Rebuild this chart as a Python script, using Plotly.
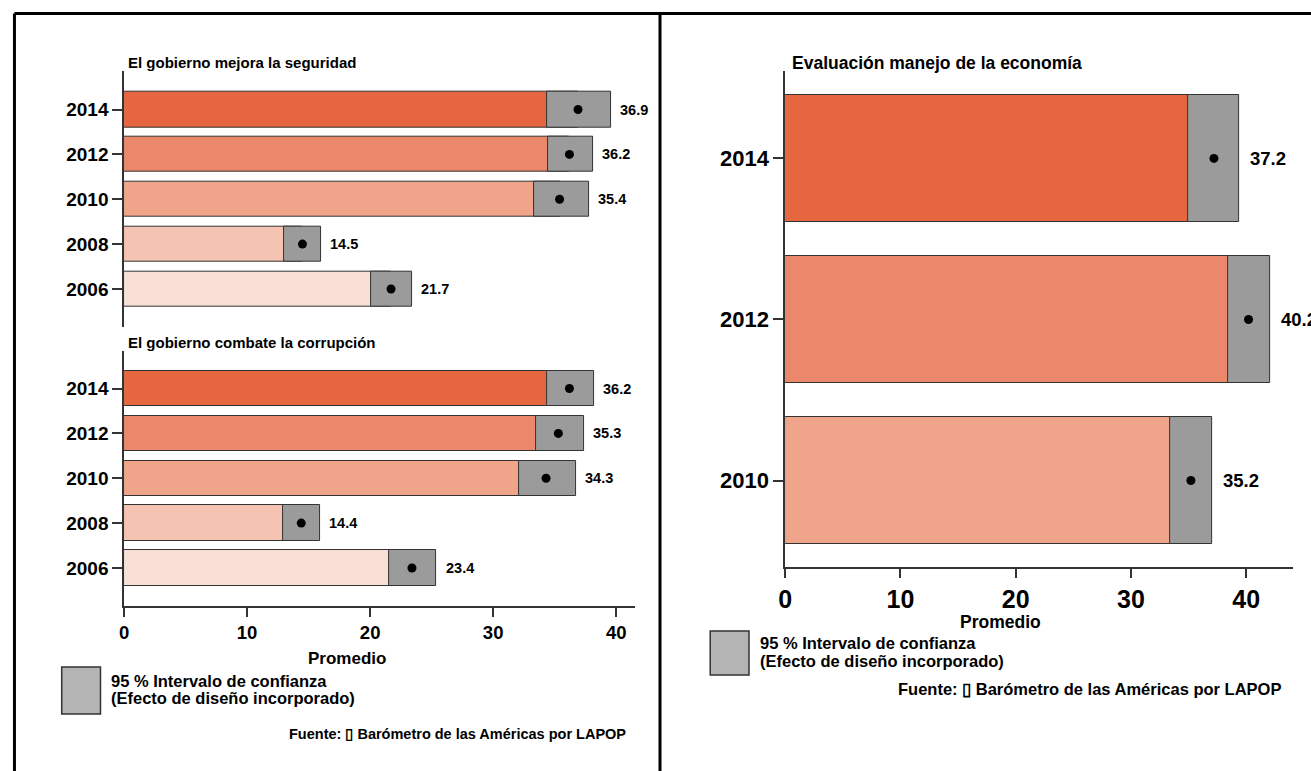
import plotly.graph_objects as go

W, H = 1311, 771

# ---------------- data ----------------
years5 = ["2006", "2008", "2010", "2012", "2014"]
seg_mean = [21.7, 14.5, 35.4, 36.2, 36.9]
seg_low = [20.1, 13.0, 33.3, 34.5, 34.4]
seg_high = [23.4, 16.0, 37.8, 38.1, 39.6]

cor_mean = [23.4, 14.4, 34.3, 35.3, 36.2]
cor_low = [21.5, 12.9, 32.1, 33.5, 34.4]
cor_high = [25.4, 15.9, 36.7, 37.4, 38.2]

years3 = ["2010", "2012", "2014"]
eco_mean = [35.2, 40.2, 37.2]
eco_low = [33.4, 38.4, 35.0]
eco_high = [37.05, 42.1, 39.4]

colors5 = ["#F9E0D7", "#F4C3B1", "#F0A58B", "#EB876A", "#E5663F"]
colors3 = ["#F0A58B", "#EB876A", "#E5663F"]

x_ticks = [0, 10, 20, 30, 40]
title_seg = "El gobierno mejora la seguridad"
title_cor = "El gobierno combate la corrupción"
title_eco = "Evaluación manejo de la economía"
x_title = "Promedio"
legend_lines = ["95 % Intervalo de confianza", "(Efecto de diseño incorporado)"]
source_text = "Fuente: \u25af Barómetro de las Américas por LAPOP"

# ---------------- style ----------------
FONT = "Liberation Sans, Arial, sans-serif"
EDGE = "#333333"
CI_GRAY = "#9B9B9B"
LEG_GRAY = "#B4B4B4"


def px(x):
    return x / W


def py(y):
    return 1 - y / H


def bfont(size, color="black"):
    return dict(family=FONT, size=size, color=color, weight="bold")


fig = go.Figure()


def add_panel(fig, xa, ya, cats, mean, low, high, colors, dot_size, label_size, label_shift):
    idx = list(range(len(cats)))
    fig.add_trace(go.Bar(
        y=idx, x=mean, base=0, orientation="h", width=0.79,
        marker=dict(color=colors, line=dict(color=EDGE, width=1)),
        xaxis=xa, yaxis=ya, showlegend=False, hoverinfo="skip"))
    fig.add_trace(go.Bar(
        y=idx, x=[h - l for h, l in zip(high, low)], base=low, orientation="h", width=0.79,
        marker=dict(color=CI_GRAY, line=dict(color=EDGE, width=1)),
        xaxis=xa, yaxis=ya, showlegend=False, hoverinfo="skip"))
    fig.add_trace(go.Scatter(
        y=idx, x=mean, mode="markers",
        marker=dict(color="black", size=dot_size),
        xaxis=xa, yaxis=ya, showlegend=False, hoverinfo="skip"))
    for i, (m, h) in enumerate(zip(mean, high)):
        fig.add_annotation(
            x=h, y=i, xref=xa, yref=ya, text=f"{m:.1f}", showarrow=False,
            xanchor="left", yanchor="middle", xshift=label_shift,
            font=bfont(label_size))


add_panel(fig, "x", "y", years5, seg_mean, seg_low, seg_high, colors5, 9, 14.5, 7)
add_panel(fig, "x2", "y2", years5, cor_mean, cor_low, cor_high, colors5, 9, 14.5, 7)
add_panel(fig, "x3", "y3", years3, eco_mean, eco_low, eco_high, colors3, 9, 18.5, 9)

yaxis_common = dict(
    showline=True, linecolor=EDGE, linewidth=1.5, ticks="outside", ticklen=10,
    tickcolor=EDGE, tickwidth=1.5, showgrid=False, zeroline=False, fixedrange=True,
)
xaxis_common = dict(
    showline=True, linecolor=EDGE, linewidth=1.5, ticks="outside", ticklen=9,
    tickcolor=EDGE, tickwidth=1.5, showgrid=False, zeroline=False, fixedrange=True,
    tickvals=x_ticks, ticktext=[str(t) for t in x_ticks],
)

fig.update_layout(
    width=W, height=H,
    margin=dict(l=0, r=0, t=0, b=0, pad=0),
    paper_bgcolor="white", plot_bgcolor="white",
    barmode="overlay", bargap=0,
    showlegend=False,
    xaxis=dict(domain=[px(117.7), px(631)], range=[0, 41.5], visible=False, anchor="y"),
    yaxis=dict(domain=[py(327), py(70.7)], range=[-0.847, 4.865], anchor="x",
               tickvals=list(range(5)), ticktext=years5, tickfont=bfont(19), **yaxis_common),
    xaxis2=dict(domain=[px(117.7), px(631)], range=[0, 41.5], anchor="y2",
                tickfont=bfont(18.5), **xaxis_common),
    yaxis2=dict(domain=[py(606), py(351)], range=[-0.847, 4.836], anchor="x2",
                tickvals=list(range(5)), ticktext=years5, tickfont=bfont(19), **yaxis_common),
    xaxis3=dict(domain=[px(782.3), px(1292.7)], range=[0, 44.04], anchor="y3",
                tickfont=bfont(25), **xaxis_common),
    yaxis3=dict(domain=[py(567), py(71)], range=[-0.537, 2.543], anchor="x3",
                tickvals=list(range(3)), ticktext=years3, tickfont=bfont(22), **yaxis_common),
)

# panel titles
fig.add_annotation(x=px(120), y=py(62), xref="paper", yref="paper", text=title_seg,
                   showarrow=False, xanchor="left", yanchor="middle", font=bfont(15))
fig.add_annotation(x=px(120), y=py(342), xref="paper", yref="paper", text=title_cor,
                   showarrow=False, xanchor="left", yanchor="middle", font=bfont(15))
fig.add_annotation(x=px(787), y=py(63), xref="paper", yref="paper", text=title_eco,
                   showarrow=False, xanchor="left", yanchor="middle", font=bfont(17.5))

# axis titles
fig.add_annotation(x=px(341.5), y=py(658), xref="paper", yref="paper", text=x_title,
                   showarrow=False, xanchor="center", yanchor="middle", font=bfont(17))
fig.add_annotation(x=px(998.5), y=py(622), xref="paper", yref="paper", text=x_title,
                   showarrow=False, xanchor="center", yanchor="middle", font=bfont(17.5))

# legends (confidence interval key)
for (bx0, by0, bx1, by1, tx, ty1, ty2, fs) in [
    (55, 667, 94, 714, 103, 680.5, 698, 16.5),
    (707, 631, 746, 675, 755.5, 643, 661, 16.5),
]:
    fig.add_shape(type="rect", xref="paper", yref="paper",
                  x0=px(bx0), x1=px(bx1), y0=py(by1), y1=py(by0),
                  fillcolor=LEG_GRAY, line=dict(color=EDGE, width=1.5))
    fig.add_annotation(x=px(tx), y=py(ty1), xref="paper", yref="paper", text=legend_lines[0],
                       showarrow=False, xanchor="left", yanchor="middle", font=bfont(fs))
    fig.add_annotation(x=px(tx), y=py(ty2), xref="paper", yref="paper", text=legend_lines[1],
                       showarrow=False, xanchor="left", yanchor="middle", font=bfont(fs))

# source notes
fig.add_annotation(x=px(624), y=py(733.5), xref="paper", yref="paper", text=source_text,
                   showarrow=False, xanchor="right", yanchor="middle", font=bfont(14.5))
fig.add_annotation(x=px(1283), y=py(688.5), xref="paper", yref="paper", text=source_text,
                   showarrow=False, xanchor="right", yanchor="middle", font=bfont(16.5))

# frame lines
for (x0, y0, x1, y1) in [(7.5, 13.5, W + 5, 13.5), (7.5, 13.5, 7.5, H + 5), (656.5, 13.5, 656.5, H + 5)]:
    fig.add_shape(type="line", xref="paper", yref="paper",
                  x0=px(x0), y0=py(y0), x1=px(x1), y1=py(y1),
                  line=dict(color="black", width=3))

fig.write_html("out.html", config={"displayModeBar": False},
               post_script="document.body.style.margin='0';document.body.style.overflow='hidden';")
